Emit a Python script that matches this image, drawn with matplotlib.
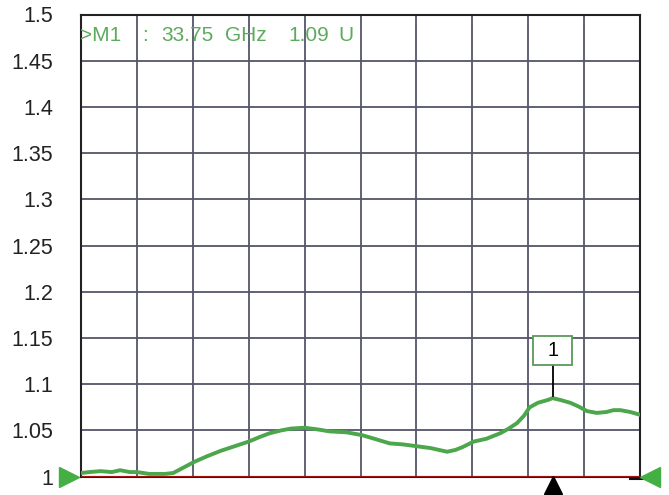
import matplotlib
matplotlib.use("Agg")
import matplotlib.pyplot as plt
from matplotlib.patches import Rectangle

# Data (frequency in GHz, value in U)
freq_ghz = [0.0, 0.6, 1.4, 2.2, 2.8, 3.5, 4.0, 4.9, 6.0, 6.6, 7.1, 8.1, 9.0, 10.0, 11.0,
            12.0, 12.8, 13.5, 14.3, 15.0, 16.0, 17.0, 17.8, 19.0, 20.1, 21.0, 22.1, 23.0,
            24.0, 25.0, 26.2, 26.8, 27.3, 28.1, 29.0, 30.0, 30.6, 31.2, 31.7, 32.1, 32.7,
            33.4, 33.75, 34.3, 35.0, 35.6, 36.2, 36.9, 37.6, 38.1, 38.6, 39.3, 40.0]
values = [1.004, 1.005, 1.006, 1.005, 1.007, 1.005, 1.005, 1.003, 1.003, 1.004, 1.008,
          1.016, 1.022, 1.028, 1.033, 1.038, 1.043, 1.047, 1.050, 1.052, 1.053, 1.051,
          1.049, 1.048, 1.045, 1.041, 1.036, 1.035, 1.033, 1.031, 1.027, 1.029, 1.032,
          1.038, 1.041, 1.047, 1.052, 1.058, 1.066, 1.075, 1.080, 1.083, 1.085, 1.083,
          1.080, 1.076, 1.071, 1.069, 1.070, 1.072, 1.072, 1.070, 1.067]
ref_level = 1.0
marker_freq = 33.75
marker_value = 1.085
marker_label = "1"
readout_parts = [">M1", ":", "33.75", "GHz", "1.09", "U"]
y_ticks = [1.0, 1.05, 1.1, 1.15, 1.2, 1.25, 1.3, 1.35, 1.4, 1.45, 1.5]
y_tick_labels = ["1", "1.05", "1.1", "1.15", "1.2", "1.25", "1.3", "1.35", "1.4", "1.45", "1.5"]
x_grid = [0, 4, 8, 12, 16, 20, 24, 28, 32, 36, 40]

W, H = 669, 495
fig = plt.figure(figsize=(W / 100, H / 100), dpi=100)
ax = fig.add_axes([81 / W, (H - 476.7) / H, (640 - 81) / W, (476.7 - 14.5) / H])

font = "Liberation Sans"
grid_col = "#55556a"
green = "#4ca64c"

ax.set_xlim(0, 40)
ax.set_ylim(1.0, 1.5)
ax.set_xticks(x_grid)
ax.set_xticklabels([])
ax.set_yticks(y_ticks)
ax.set_yticklabels(y_tick_labels, fontfamily=font, fontsize=15.5, color="#222222")
ax.tick_params(axis="both", length=0)
ax.tick_params(axis="y", pad=20)
ax.grid(True, color=grid_col, linewidth=1.3)
ax.set_axisbelow(True)
for s in ax.spines.values():
    s.set_color("#222222")
    s.set_linewidth(1.5)

# reference line
ax.axhline(ref_level, color="#a01010", linewidth=2.2, zorder=3)

# trace
ax.plot(freq_ghz, values, color=green, linewidth=2.8, zorder=4, solid_joinstyle="round")

# end triangles
ax.plot([-0.85], [ref_level], marker=">", color="#44b044", markersize=14, clip_on=False, zorder=5, linestyle="none")
ax.plot([40.75], [ref_level], marker="<", color="#44b044", markersize=14, clip_on=False, zorder=5, linestyle="none")
ax.plot([39.3, 40.6], [0.9975, 0.9975], color="#111111", linewidth=1.5, clip_on=False, zorder=4)

# marker triangle at bottom
ax.plot([marker_freq], [0.9905], marker="^", color="black", markersize=13, clip_on=False, zorder=5, linestyle="none")

# marker box and leader
box_w, box_bottom, box_top = 2.8, 1.1207, 1.152
ax.plot([marker_freq, marker_freq], [marker_value + 0.002, box_bottom], color="black", linewidth=1.3, zorder=5)
ax.add_patch(Rectangle((marker_freq - box_w / 2, box_bottom), box_w, box_top - box_bottom,
                       facecolor="white", edgecolor="#5a9a5a", linewidth=1.3, zorder=6))
ax.text(marker_freq, (box_bottom + box_top) / 2, marker_label, ha="center", va="center",
        fontfamily=font, fontsize=14.5, color="black", zorder=7)

# marker readout
tcol = "#5cab5c"
ty = 1.4773
readout_x = [-0.1, 4.36, 5.72, 10.3, 14.81, 18.39]
for txt, tx in zip(readout_parts, readout_x):
    ax.text(tx, ty, txt, ha="left", va="center", fontfamily=font, fontsize=15, color=tcol, clip_on=True)

fig.savefig("out.png", dpi=100)
